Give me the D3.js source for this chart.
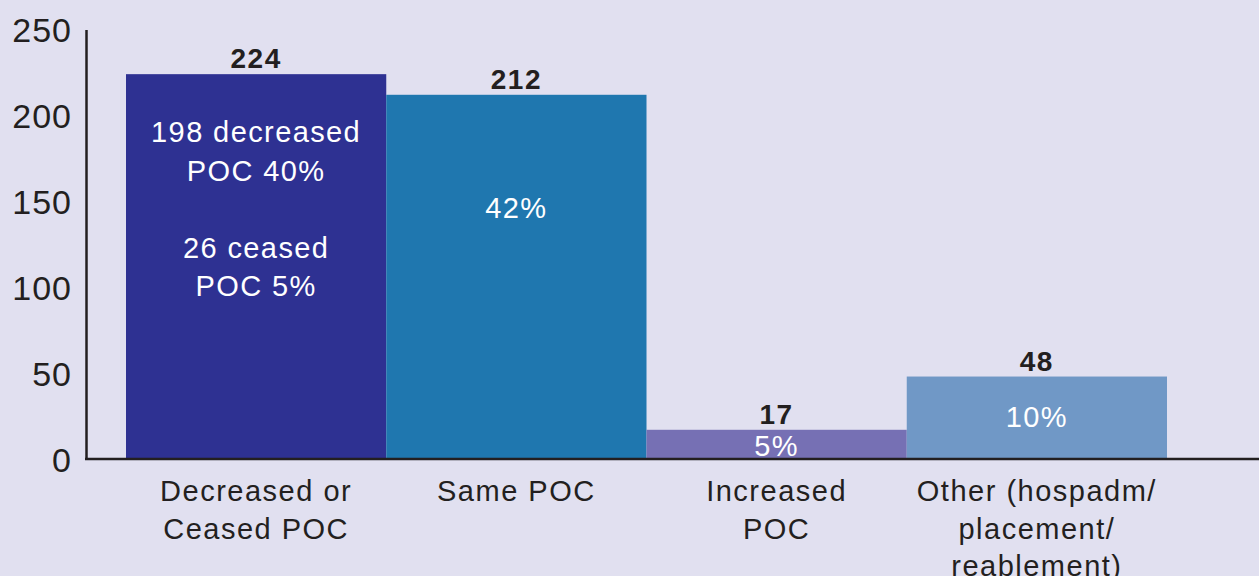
<!DOCTYPE html>
<html>
<head>
<meta charset="utf-8">
<script src="https://cdn.jsdelivr.net/npm/d3@7"></script>
<style>
  html, body { margin: 0; padding: 0; background: #e1e0f0; }
  svg { display: block; }
  text { font-family: "Liberation Sans", "Helvetica Neue", Arial, sans-serif; }
</style>
</head>
<body>
<svg width="1259" height="576"></svg>
<script>
const categories = [
  ["Decreased or", "Ceased POC"],
  ["Same POC"],
  ["Increased", "POC"],
  ["Other (hospadm/", "placement/", "reablement)"]
];
const values = [224, 212, 17, 48];
const innerLabels = [
  ["198 decreased", "POC 40%", "", "26 ceased", "POC 5%"],
  ["42%"],
  ["5%"],
  ["10%"]
];
const yTicks = [0, 50, 100, 150, 200, 250];
const colors = ["#2e3192", "#1f77af", "#7670b4", "#7098c6"];

// where the first line of each inside label sits, below the bar top
const innerOffset = [68, 123, 26, 50];

const svg = d3.select("svg");
const ink = "#231f20";

const x = d3.scaleBand()
  .domain(d3.range(categories.length))
  .range([126, 1167])
  .padding(0);

const y = d3.scaleLinear()
  .domain([0, 250])
  .range([459, 29.5]);

// bars
svg.append("g").selectAll("rect")
  .data(values)
  .enter().append("rect")
  .attr("x", (d, i) => x(i))
  .attr("width", x.bandwidth())
  .attr("y", d => y(d))
  .attr("height", d => y(0) - y(d))
  .attr("fill", (d, i) => colors[i]);

// value labels on top
svg.append("g").selectAll("text")
  .data(values)
  .enter().append("text")
  .attr("x", (d, i) => x(i) + x.bandwidth() / 2)
  .attr("y", d => y(d) - 6)
  .attr("text-anchor", "middle")
  .attr("font-size", 28)
  .attr("font-weight", "bold")
  .attr("letter-spacing", 1.5)
  .attr("fill", ink)
  .text(d => d);

// labels inside bars
innerLabels.forEach((lines, i) => {
  const t = svg.append("text")
    .attr("text-anchor", "middle")
    .attr("font-size", 29)
    .attr("letter-spacing", 1.4)
    .attr("fill", "#ffffff");
  lines.forEach((line, j) => {
    t.append("tspan")
      .attr("x", x(i) + x.bandwidth() / 2)
      .attr("y", y(values[i]) + innerOffset[i] + j * 38.5)
      .text(line);
  });
});

// y axis
const yAxis = svg.append("g")
  .attr("transform", "translate(86,0)")
  .call(d3.axisLeft(y).tickValues(yTicks).tickSize(0).tickPadding(14));
yAxis.select(".domain").attr("stroke", ink).attr("stroke-width", 2.5);
yAxis.selectAll("text")
  .attr("font-size", 34)
  .attr("letter-spacing", 1)
  .attr("fill", ink)
  .attr("dy", "0.36em")
  .style("font-family", "'Liberation Sans', Arial, sans-serif");

// x axis baseline
svg.append("line")
  .attr("x1", 85).attr("x2", 1259)
  .attr("y1", y(0)).attr("y2", y(0))
  .attr("stroke", ink)
  .attr("stroke-width", 2.5);

// category labels
categories.forEach((lines, i) => {
  const t = svg.append("text")
    .attr("text-anchor", "middle")
    .attr("font-size", 29)
    .attr("letter-spacing", 1.5)
    .attr("fill", ink);
  lines.forEach((line, j) => {
    t.append("tspan")
      .attr("x", x(i) + x.bandwidth() / 2)
      .attr("y", 501 + j * 37.5)
      .text(line);
  });
});
</script>
</body>
</html>
